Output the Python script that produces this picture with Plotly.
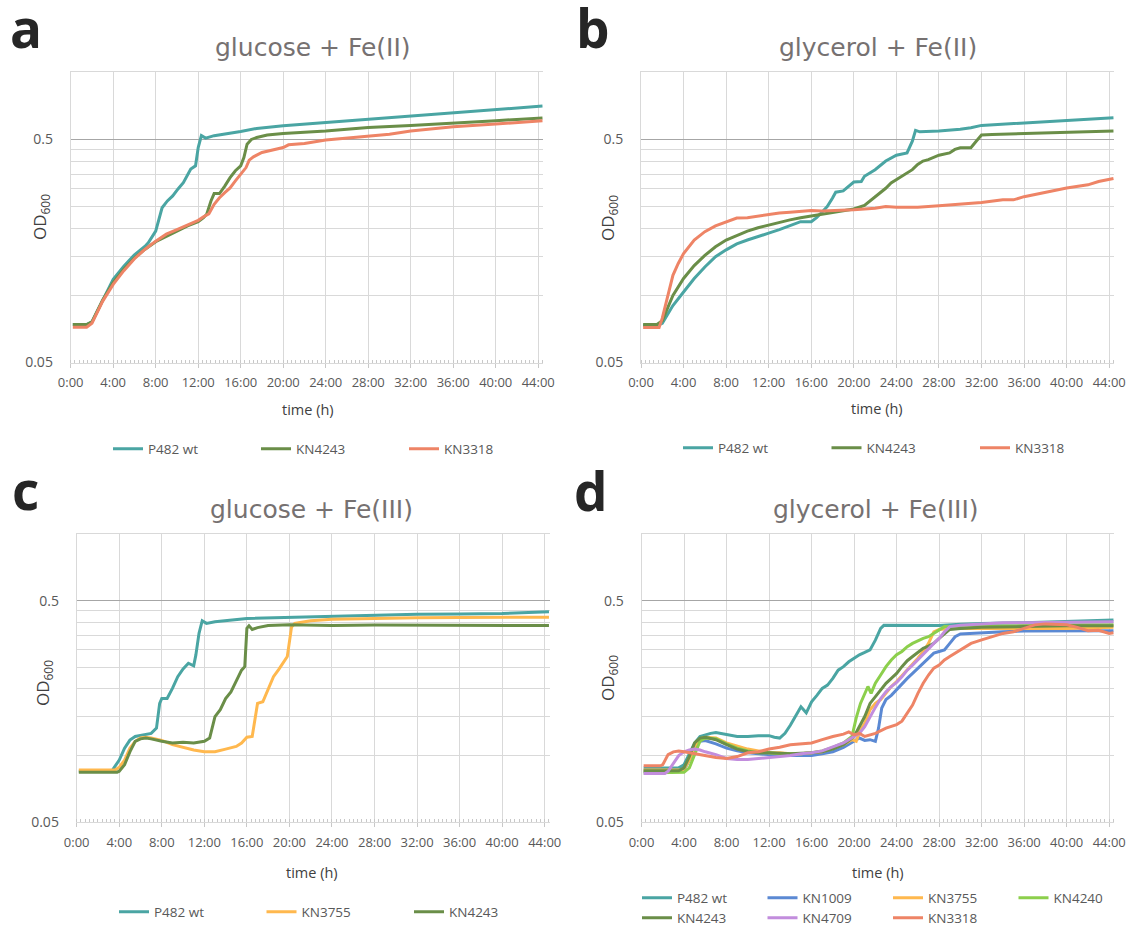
import math
import plotly.graph_objects as go

# ---------------------------------------------------------------------------
# Growth curves (OD600 vs time in hours)
# ---------------------------------------------------------------------------

# a: glucose + Fe(II)
A_WT_T = [0.2, 1.5, 2.0, 3.1, 4, 5, 6, 7, 7.3, 8, 8.6, 9.1, 9.6, 10.1, 10.6, 11.3, 11.75, 12.0,
          12.3, 12.7, 13.5, 16, 17.5, 20, 24, 28, 32, 36, 40, 44.4]
A_WT_OD = [0.074, 0.074, 0.076, 0.097, 0.118, 0.135, 0.152, 0.166, 0.172, 0.194, 0.247, 0.265,
           0.279, 0.300, 0.320, 0.368, 0.381, 0.46, 0.52, 0.507, 0.52, 0.543, 0.56, 0.576, 0.596,
           0.617, 0.639, 0.659, 0.68, 0.706]
A_4243_T = [0.2, 1.5, 2.0, 3, 4, 5, 6, 7, 8, 9, 10, 11, 12, 12.5, 12.8, 13.2, 13.5, 14, 14.5, 15,
            15.5, 16, 16.3, 16.6, 17, 17.5, 18.5, 20, 24, 28, 32, 36, 40, 44.4]
A_4243_OD = [0.074, 0.074, 0.076, 0.095, 0.114, 0.131, 0.147, 0.161, 0.174, 0.184, 0.194, 0.205,
             0.214, 0.223, 0.231, 0.265, 0.286, 0.286, 0.309, 0.337, 0.362, 0.381, 0.415, 0.476,
             0.5, 0.51, 0.523, 0.532, 0.546, 0.566, 0.578, 0.594, 0.607, 0.624]
A_3318_T = [0.2, 1.5, 2, 3, 4, 5, 6, 7, 8, 9, 10, 11, 12, 12.5, 13, 13.5, 14, 14.5, 15, 15.5, 16,
            16.5, 16.8, 17.2, 18, 19, 20, 20.5, 22, 24, 26, 28, 30, 32, 36, 40, 44.4]
A_3318_OD = [0.0719, 0.0719, 0.075, 0.094, 0.112, 0.129, 0.146, 0.161, 0.175, 0.188, 0.197, 0.207,
             0.217, 0.225, 0.232, 0.256, 0.274, 0.289, 0.303, 0.326, 0.349, 0.374, 0.404, 0.418,
             0.437, 0.447, 0.46, 0.473, 0.48, 0.497, 0.507, 0.519, 0.528, 0.546, 0.570, 0.586, 0.607]

# b: glycerol + Fe(II)
B_WT_T = [0.2, 1.5, 2, 3, 4, 5, 6, 7, 8, 9, 10, 11, 12, 13, 14, 15, 16, 16.5, 17, 17.5, 18, 18.3,
          19, 19.5, 20, 20.7, 21, 22, 23, 24, 25, 25.5, 25.8, 26.2, 28, 30, 31, 32, 36, 40, 44.4]
B_WT_OD = [0.0732, 0.0732, 0.075, 0.090, 0.1035, 0.119, 0.134, 0.149, 0.160, 0.170, 0.177, 0.184,
           0.190, 0.197, 0.205, 0.214, 0.214, 0.223, 0.236, 0.250, 0.273, 0.290, 0.294, 0.308,
           0.322, 0.324, 0.342, 0.366, 0.400, 0.425, 0.435, 0.491, 0.549, 0.541, 0.545, 0.555,
           0.564, 0.578, 0.594, 0.611, 0.626]
B_4243_T = [0.2, 1.5, 2, 3, 4, 5, 6, 7, 8, 9, 10, 11, 12, 13, 14, 15, 16, 17, 18, 19, 20, 21, 21.5,
            22, 22.5, 23, 23.5, 24, 24.5, 25, 25.5, 26, 26.5, 27, 28, 29, 29.5, 30, 31, 31.5, 32,
            33, 36, 40, 44.4]
B_4243_OD = [0.074, 0.074, 0.077, 0.100, 0.119, 0.136, 0.151, 0.165, 0.177, 0.186, 0.194, 0.201,
             0.207, 0.213, 0.218, 0.223, 0.227, 0.231, 0.235, 0.239, 0.244, 0.253, 0.264, 0.277,
             0.287, 0.302, 0.319, 0.330, 0.342, 0.354, 0.366, 0.386, 0.400, 0.406, 0.425, 0.435,
             0.451, 0.459, 0.459, 0.491, 0.523, 0.526, 0.532, 0.539, 0.545]
B_3318_T = [0.2, 1.7, 2, 2.5, 3, 3.5, 4, 5, 6, 7, 8, 9, 10, 11, 12, 13, 14, 15, 16, 17, 18, 20, 22,
            23, 24, 26, 28, 30, 32, 34, 35, 36, 38, 40, 42, 43, 44.4]
B_3318_OD = [0.0718, 0.0718, 0.079, 0.100, 0.123, 0.139, 0.154, 0.177, 0.193, 0.205, 0.214, 0.222,
             0.223, 0.227, 0.231, 0.234, 0.236, 0.238, 0.240, 0.239, 0.240, 0.242, 0.246, 0.250,
             0.248, 0.248, 0.252, 0.256, 0.261, 0.268, 0.268, 0.277, 0.290, 0.303, 0.313, 0.324,
             0.334]

# c: glucose + Fe(III)
C_WT_T = [0.2, 3.3, 3.5, 4, 4.5, 5, 5.5, 6, 7, 7.5, 7.8, 8, 8.5, 9, 9.5, 10, 10.5, 11, 11.2, 11.5,
          11.8, 12.2, 13, 16, 20, 24, 28, 32, 36, 40, 44.4]
C_WT_OD = [0.085, 0.085, 0.088, 0.0955, 0.108, 0.1175, 0.122, 0.123, 0.126, 0.133, 0.172, 0.181,
           0.181, 0.201, 0.227, 0.246, 0.261, 0.254, 0.284, 0.356, 0.406, 0.395, 0.402, 0.416,
           0.421, 0.427, 0.431, 0.434, 0.436, 0.438, 0.446]
C_3755_T = [0.2, 3.6, 4, 4.5, 5, 5.5, 6, 6.5, 7, 8, 9, 10, 11, 12, 13, 14, 15, 15.5, 16, 16.5, 16.8,
            17, 17.5, 18, 18.5, 19, 19.5, 19.8, 20.2, 20.5, 21, 22, 24, 28, 32, 36, 40, 44.4]
C_3755_OD = [0.086, 0.086, 0.0885, 0.0955, 0.108, 0.116, 0.120, 0.121, 0.120, 0.117, 0.112, 0.109,
             0.106, 0.104, 0.104, 0.107, 0.110, 0.114, 0.121, 0.122, 0.150, 0.172, 0.175, 0.198,
             0.227, 0.245, 0.265, 0.280, 0.381, 0.395, 0.399, 0.406, 0.412, 0.416, 0.419, 0.420,
             0.421, 0.421]
C_4243_T = [0.2, 3.8, 4, 4.5, 5, 5.5, 6, 6.5, 7, 8, 9, 10, 11, 12, 12.5, 13, 13.5, 14, 14.5, 15,
            15.5, 15.8, 16, 16.2, 16.5, 17, 18, 20, 22, 24, 28, 32, 36, 40, 44.4]
C_4243_OD = [0.0842, 0.0842, 0.085, 0.091, 0.104, 0.116, 0.119, 0.120, 0.119, 0.116, 0.114, 0.115,
             0.114, 0.116, 0.120, 0.150, 0.161, 0.181, 0.194, 0.216, 0.243, 0.252, 0.375, 0.385,
             0.371, 0.378, 0.386, 0.389, 0.388, 0.386, 0.388, 0.388, 0.388, 0.389, 0.386]

# d: glycerol + Fe(III)
D_WT_T = [0.2, 3.5, 4, 4.5, 5, 5.5, 6, 6.5, 7, 8, 9, 10, 11, 12, 12.5, 13, 13.5, 14, 14.5, 15, 15.5,
          16, 16.5, 17, 17.5, 18, 18.5, 19, 19.5, 20, 20.5, 21, 21.5, 22, 22.5, 22.8, 24, 26, 28,
          30, 32, 36, 40, 44.4]
D_WT_OD = [0.088, 0.088, 0.091, 0.102, 0.114, 0.122, 0.124, 0.126, 0.127, 0.124, 0.122, 0.122,
           0.123, 0.123, 0.121, 0.120, 0.126, 0.137, 0.150, 0.166, 0.156, 0.175, 0.187, 0.201,
           0.208, 0.223, 0.243, 0.252, 0.265, 0.275, 0.285, 0.292, 0.300, 0.332, 0.375, 0.387,
           0.387, 0.387, 0.386, 0.391, 0.395, 0.398, 0.402, 0.409]
D_1009_T = [0.2, 3.5, 4, 4.5, 5, 5.5, 6, 7, 8, 9, 10, 11, 12, 13, 14, 15, 16, 17, 18, 19, 20, 20.5,
            21, 21.5, 22, 22.3, 22.6, 23, 23.5, 24, 24.5, 25, 25.5, 26, 26.5, 27, 27.5, 28, 28.5,
            29, 29.5, 30, 31, 32, 34, 36, 40, 44.4]
D_1009_OD = [0.085, 0.085, 0.086, 0.0955, 0.108, 0.116, 0.117, 0.113, 0.108, 0.105, 0.103, 0.102,
             0.101, 0.100, 0.100, 0.100, 0.100, 0.102, 0.104, 0.109, 0.116, 0.120, 0.117, 0.118,
             0.116, 0.133, 0.164, 0.179, 0.187, 0.198, 0.212, 0.223, 0.235, 0.248, 0.260, 0.275,
             0.290, 0.295, 0.300, 0.321, 0.344, 0.354, 0.356, 0.360, 0.362, 0.365, 0.366, 0.366]
D_3755_T = [0.2, 3.7, 4, 4.5, 5, 5.5, 6, 7, 8, 9, 10, 11, 12, 13, 14, 15, 16, 17, 18, 19, 19.8,
            20.2, 20.6, 21, 21.5, 22, 22.5, 23, 23.5, 24, 25, 26, 26.5, 27, 27.5, 28, 29, 30, 32,
            36, 40, 44.4]
D_3755_OD = [0.086, 0.086, 0.0868, 0.0955, 0.110, 0.119, 0.121, 0.120, 0.114, 0.110, 0.107, 0.105,
             0.103, 0.103, 0.102, 0.102, 0.103, 0.104, 0.108, 0.112, 0.118, 0.116, 0.131, 0.140,
             0.161, 0.172, 0.179, 0.191, 0.205, 0.216, 0.243, 0.275, 0.295, 0.321, 0.362, 0.371,
             0.375, 0.375, 0.374, 0.374, 0.375, 0.379]
D_4240_T = [0.2, 3.8, 4, 4.5, 5, 5.5, 6, 7, 8, 9, 10, 11, 12, 13, 14, 15, 16, 17, 18, 19, 19.8,
            20.2, 20.6, 21, 21.3, 21.6, 22, 22.5, 23, 23.5, 24, 24.5, 25, 25.5, 26, 26.5, 27, 27.5,
            28, 28.5, 29, 32, 36, 40, 44.4]
D_4240_OD = [0.0834, 0.0834, 0.084, 0.088, 0.102, 0.116, 0.120, 0.119, 0.113, 0.108, 0.105, 0.103,
             0.103, 0.102, 0.102, 0.102, 0.103, 0.105, 0.109, 0.114, 0.122, 0.148, 0.172, 0.191,
             0.205, 0.191, 0.212, 0.231, 0.252, 0.270, 0.285, 0.295, 0.310, 0.321, 0.330, 0.338,
             0.344, 0.356, 0.370, 0.382, 0.382, 0.385, 0.386, 0.389, 0.389]
D_4243_T = [0.2, 3.5, 4, 4.5, 5, 5.5, 6, 7, 8, 9, 10, 11, 12, 14, 16, 17, 18, 19, 20, 20.5, 21,
            21.5, 22, 22.5, 23, 23.5, 24, 24.5, 25, 25.5, 26, 26.5, 27, 27.5, 28, 28.5, 29, 30, 32,
            36, 40, 44.4]
D_4243_OD = [0.0854, 0.0854, 0.088, 0.099, 0.114, 0.120, 0.121, 0.118, 0.112, 0.107, 0.104, 0.103,
             0.103, 0.102, 0.103, 0.104, 0.107, 0.112, 0.122, 0.135, 0.150, 0.172, 0.185, 0.198,
             0.212, 0.223, 0.235, 0.252, 0.268, 0.280, 0.292, 0.305, 0.312, 0.321, 0.338, 0.356,
             0.371, 0.375, 0.379, 0.382, 0.385, 0.385]
D_4709_T = [0.2, 2.2, 2.5, 3, 3.5, 4, 4.5, 5, 5.5, 6, 7, 8, 9, 10, 11, 12, 13, 14, 15, 16, 17, 18,
            19, 20, 20.5, 21, 21.5, 22, 22.5, 23, 23.5, 24, 24.5, 25, 25.5, 26, 26.5, 27, 27.5, 28,
            28.5, 29, 30, 32, 34, 36, 40, 44.4]
D_4709_OD = [0.083, 0.083, 0.085, 0.0922, 0.100, 0.104, 0.106, 0.107, 0.106, 0.104, 0.101, 0.097,
             0.096, 0.096, 0.097, 0.098, 0.099, 0.100, 0.102, 0.103, 0.105, 0.109, 0.114, 0.122,
             0.126, 0.135, 0.150, 0.165, 0.181, 0.194, 0.205, 0.214, 0.227, 0.243, 0.256, 0.270,
             0.285, 0.303, 0.321, 0.338, 0.362, 0.382, 0.387, 0.393, 0.398, 0.398, 0.400, 0.402]
D_3318_T = [0.2, 1.8, 2, 2.5, 3, 3.5, 4, 5, 6, 7, 8, 9, 10, 11, 12, 13, 14, 15, 16, 17, 18, 19,
            19.5, 20, 20.5, 21, 21.5, 22, 23, 24, 24.5, 25, 25.5, 26, 26.5, 27, 27.5, 28, 28.5, 29,
            30, 31, 32, 33, 34, 35, 36, 37, 38, 40, 41, 42, 43, 44, 44.4]
D_3318_OD = [0.090, 0.090, 0.091, 0.101, 0.104, 0.105, 0.104, 0.102, 0.100, 0.098, 0.097, 0.099,
             0.103, 0.104, 0.107, 0.109, 0.112, 0.113, 0.114, 0.118, 0.122, 0.125, 0.128, 0.124,
             0.126, 0.122, 0.124, 0.126, 0.133, 0.138, 0.143, 0.155, 0.169, 0.191, 0.212, 0.231,
             0.248, 0.256, 0.270, 0.280, 0.300, 0.321, 0.333, 0.344, 0.356, 0.362, 0.375, 0.389,
             0.393, 0.389, 0.379, 0.366, 0.368, 0.356, 0.358]

# Axis ticks
HOUR_TICKS = list(range(0, 45, 4))
HOUR_LABELS = [f"{h}:00" for h in HOUR_TICKS]
OD_TICKS = [0.05, 0.5]
OD_LABELS = ["0.05", "0.5"]
OD_MINOR = [0.1, 0.15, 0.2, 0.25, 0.3, 0.35, 0.4, 0.45, 1.0]

# Strain colours
COL = {
    "P482 wt": "#4AA5A3",
    "KN1009": "#5B89D3",
    "KN3755": "#FFB84E",
    "KN4240": "#8CCF4C",
    "KN4243": "#6A8E48",
    "KN4709": "#C28DDD",
    "KN3318": "#EE8466",
}

W, H = 1135, 928
FONT = "Open Sans"
TITLE_FONT = "DejaVu Sans"

# panel boxes in pixels: (left, right, top, bottom)
BOX = {
    1: (70.7, 543.0, 72.3, 362.5),
    2: (641.0, 1114.0, 72.3, 362.5),
    3: (76.7, 549.5, 534.0, 822.3),
    4: (641.5, 1114.0, 534.0, 822.3),
}

fig = go.Figure()


def add(panel, name, t, od, legend):
    sfx = "" if panel == 1 else str(panel)
    fig.add_trace(go.Scatter(
        x=t, y=od, name=name, mode="lines",
        line=dict(color=COL[name], width=3),
        xaxis="x" + sfx, yaxis="y" + sfx, legend=legend,
    ))


add(1, "P482 wt", A_WT_T, A_WT_OD, "legend")
add(1, "KN4243", A_4243_T, A_4243_OD, "legend")
add(1, "KN3318", A_3318_T, A_3318_OD, "legend")

add(2, "P482 wt", B_WT_T, B_WT_OD, "legend2")
add(2, "KN4243", B_4243_T, B_4243_OD, "legend2")
add(2, "KN3318", B_3318_T, B_3318_OD, "legend2")

add(3, "P482 wt", C_WT_T, C_WT_OD, "legend3")
add(3, "KN3755", C_3755_T, C_3755_OD, "legend3")
add(3, "KN4243", C_4243_T, C_4243_OD, "legend3")

add(4, "P482 wt", D_WT_T, D_WT_OD, "legend4")
add(4, "KN1009", D_1009_T, D_1009_OD, "legend4")
add(4, "KN3755", D_3755_T, D_3755_OD, "legend4")
add(4, "KN4240", D_4240_T, D_4240_OD, "legend4")
add(4, "KN4243", D_4243_T, D_4243_OD, "legend5")
add(4, "KN4709", D_4709_T, D_4709_OD, "legend5")
add(4, "KN3318", D_3318_T, D_3318_OD, "legend5")

layout = dict(
    width=W, height=H,
    margin=dict(l=0, r=0, t=0, b=0, autoexpand=False),
    paper_bgcolor="white", plot_bgcolor="white",
    font=dict(family=FONT, color="#595959"),
    showlegend=True,
)

for p, (l, r, t, b) in BOX.items():
    sfx = "" if p == 1 else str(p)
    layout["xaxis" + sfx] = dict(
        domain=[l / W, r / W], anchor="y" + sfx,
        range=[0, 44.45], tickmode="array", tickvals=HOUR_TICKS, ticktext=HOUR_LABELS,
        showgrid=True, gridcolor="#D9D9D9", gridwidth=1,
        showline=True, linecolor="#D9D9D9", linewidth=1, mirror=True,
        ticks="outside", ticklen=4, tickcolor="#C8C8C8", ticklabelstandoff=4,
        tickfont=dict(family=FONT, size=13, color="#595959"),
        minor=dict(tick0=0, dtick=0.4, ticks="inside", ticklen=3,
                   tickcolor="#C8C8C8", showgrid=False),
        zeroline=False, fixedrange=True,
    )
    layout["yaxis" + sfx] = dict(
        domain=[1 - b / H, 1 - t / H], anchor="x" + sfx,
        type="log", range=[math.log10(0.05), 0.0],
        tickmode="array", tickvals=OD_TICKS, ticktext=OD_LABELS,
        showgrid=True, gridcolor="#A6A6A6", gridwidth=1.4,
        minor=dict(tickmode="array", tickvals=OD_MINOR, showgrid=True,
                   gridcolor="#D9D9D9", gridwidth=1, ticks=""),
        showline=True, linecolor="#D9D9D9", linewidth=1,
        ticks="", ticklabelstandoff=14,
        tickfont=dict(family=FONT, size=14, color="#595959"),
        zeroline=False, fixedrange=True,
    )


def legend_at(x_px, y_px, spacing):
    return dict(
        orientation="h", x=x_px / W, y=1 - y_px / H, xanchor="left", yanchor="middle",
        entrywidth=spacing - 45, entrywidthmode="pixels",
        font=dict(family=FONT, size=13.5, color="#595959"),
        bgcolor="rgba(0,0,0,0)", borderwidth=0, traceorder="normal",
    )


layout["legend"] = legend_at(108, 449, 148)
layout["legend2"] = legend_at(678, 448, 148.5)
layout["legend3"] = legend_at(114, 912, 147.5)
layout["legend4"] = legend_at(637, 898, 125.5)
layout["legend5"] = legend_at(637, 918, 125.5)

ann = []
titles = {1: "glucose + Fe(II)", 2: "glycerol + Fe(II)", 3: "glucose + Fe(III)", 4: "glycerol + Fe(III)"}
title_pos = {1: (313, 48), 2: (878, 48), 3: (311, 510), 4: (876, 510)}
letters = {1: ("a", 8, 28), 2: ("b", 574, 28), 3: ("c", 10, 489), 4: ("d", 572, 490)}
xlabel_pos = {1: (308, 409), 2: (877, 408), 3: (312, 872), 4: (878, 872)}
ylabel_pos = {1: (40, 217), 2: (608, 218), 3: (43, 683), 4: (608, 678)}

for p in BOX:
    tx, ty = title_pos[p]
    ann.append(dict(text=titles[p], x=tx / W, y=1 - ty / H, xref="paper", yref="paper",
                    xanchor="center", yanchor="middle", showarrow=False,
                    font=dict(family=TITLE_FONT, size=25, color="#767171")))
    s, lx, ly = letters[p]
    ann.append(dict(text=s, x=lx / W, y=1 - ly / H, xref="paper", yref="paper",
                    xanchor="left", yanchor="middle", showarrow=False,
                    font=dict(family=FONT, size=53, color="#262626", weight="bold")))
    xx, xy = xlabel_pos[p]
    ann.append(dict(text="time (h)", x=xx / W, y=1 - xy / H, xref="paper", yref="paper",
                    xanchor="center", yanchor="middle", showarrow=False,
                    font=dict(family=FONT, size=14.5, color="#404040")))
    yx, yy = ylabel_pos[p]
    ann.append(dict(text="OD<sub>600</sub>", x=yx / W, y=1 - yy / H, xref="paper", yref="paper",
                    xanchor="center", yanchor="middle", showarrow=False, textangle=-90,
                    font=dict(family=FONT, size=17, color="#404040")))

layout["annotations"] = ann
fig.update_layout(**layout)
fig.write_html("out.html")
